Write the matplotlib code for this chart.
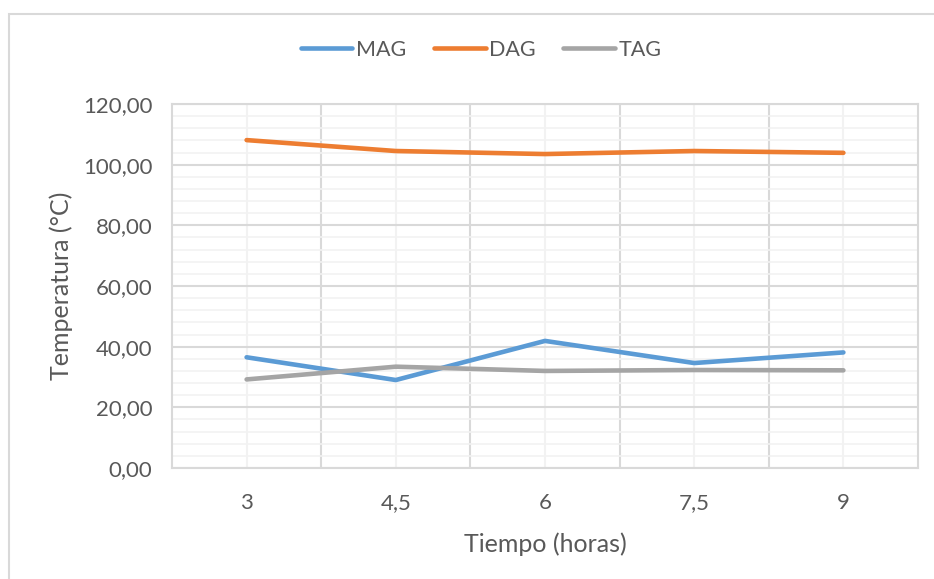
import matplotlib.pyplot as plt
import numpy as np
from matplotlib.patches import Rectangle
from matplotlib.ticker import FuncFormatter, MultipleLocator, FixedLocator

plt.rcParams['font.family'] = ['Lato', 'DejaVu Sans']

tiempo = ['3', '4,5', '6', '7,5', '9']
mag = [36.5, 29.0, 41.9, 34.6, 38.1]
dag = [108.1, 104.5, 103.5, 104.5, 103.9]
tag = [29.2, 33.4, 32.0, 32.3, 32.2]

text_col = '#595959'
major_col = '#D9D9D9'
minor_col = '#F2F2F2'

fig = plt.figure(figsize=(9.34, 5.79), dpi=100)
ax = fig.add_axes([172/934, 1 - 468/579, 746/934, 364/579])

# chart area border (only top and left visible in the crop)
fig.patches.append(Rectangle((9/934, -0.1), 1.2, 1 - 14/579 + 0.1,
                             transform=fig.transFigure, fill=False,
                             edgecolor=major_col, linewidth=1.5))

x = np.arange(len(tiempo))
ax.plot(x, mag, color='#5B9BD5', lw=3.3, solid_capstyle='round', label='MAG', zorder=3)
ax.plot(x, dag, color='#ED7D31', lw=3.3, solid_capstyle='round', label='DAG', zorder=3)
ax.plot(x, tag, color='#A5A5A5', lw=3.3, solid_capstyle='round', label='TAG', zorder=3)

ax.set_xlim(-0.5, len(tiempo) - 0.5)
ax.set_ylim(0, 120)

ax.yaxis.set_major_locator(MultipleLocator(20))
ax.yaxis.set_minor_locator(MultipleLocator(4))
ax.yaxis.set_major_formatter(FuncFormatter(lambda v, p: f'{v:.2f}'.replace('.', ',')))
ax.set_xticks(x)
ax.set_xticklabels(tiempo)
ax.xaxis.set_minor_locator(FixedLocator(x[:-1] + 0.5))

ax.grid(which='minor', axis='y', color=minor_col, lw=1.2)
ax.grid(which='major', axis='y', color=major_col, lw=1.5)
ax.grid(which='major', axis='x', color=minor_col, lw=1.5)
ax.grid(which='minor', axis='x', color=major_col, lw=1.5)
ax.set_axisbelow(True)

for s in ax.spines.values():
    s.set_color(major_col)
    s.set_linewidth(1.5)

ax.tick_params(which='both', length=0, colors=text_col, labelsize=16)
ax.tick_params(axis='y', pad=14)
ax.tick_params(axis='x', pad=18)

ax.set_ylabel('Temperatura (°C)', color=text_col, fontsize=18, labelpad=7)
ax.set_xlabel('Tiempo (horas)', color=text_col, fontsize=18, labelpad=14)

leg = fig.legend(loc='center', bbox_to_anchor=(481/934, 1 - 50/579), ncol=3,
                 frameon=False, fontsize=15.5, handlelength=2.4, handletextpad=0.15,
                 columnspacing=1.3)
for t in leg.get_texts():
    t.set_color(text_col)

fig.savefig('out.png', dpi=100)
